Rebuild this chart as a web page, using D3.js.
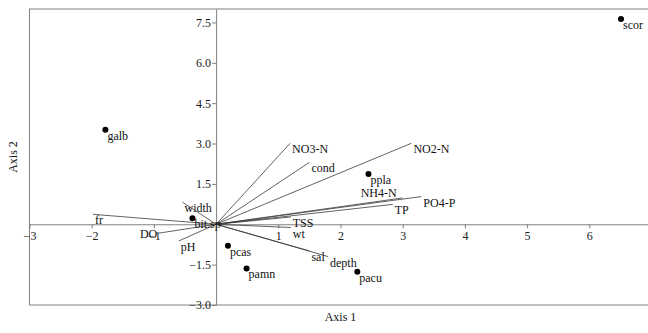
<!DOCTYPE html>
<html>
<head>
<meta charset="utf-8">
<script src="https://cdn.jsdelivr.net/npm/d3@7"></script>
<style>
  body { margin: 0; background: #fff; }
  svg { display: block; font-family: "Liberation Serif", "DejaVu Serif", serif; }
</style>
</head>
<body>
<svg id="chart" width="648" height="333"></svg>
<script>
// species scores (points)
const speciesNames = ["scor", "galb", "ppla", "bit.sp", "pcas", "pamn", "pacu"];
const speciesX = [6.51, -1.78, 2.45, -0.38, 0.19, 0.49, 2.27];
const speciesY = [7.63, 3.51, 1.87, 0.22, -0.80, -1.64, -1.76];

// environmental vectors (tips)
const varNames = ["NO3-N", "NO2-N", "cond", "NH4-N", "PO4-P", "TP", "TSS", "wt", "sal", "depth", "width", "fr", "DO", "pH"];
const varX = [1.19, 3.14, 1.50, 3.00, 3.30, 2.84, 1.20, 1.20, 1.50, 1.80, -0.54, -1.98, -0.92, -0.60];
const varY = [3.01, 3.01, 2.30, 0.98, 1.03, 0.74, 0.27, -0.12, -0.99, -1.20, 0.82, 0.37, -0.33, -0.62];

const xTicks = [-3, -2, -1, 1, 2, 3, 4, 5, 6];
const yTicks = [7.5, 6.0, 4.5, 3.0, 1.5, -1.5, -3.0];

// label placement: default right of the tip, a few moved by hand
const labelDefault = [2, 10];
const labelNudge = { "NH4-N": [-42, -1], "DO": [-19, 5] };

const svg = d3.select("#chart");

const x = d3.scaleLinear().domain([-3, 7]).range([29.5, 651.5]);
const y = d3.scaleLinear().domain([-3, 8]).range([305, 9]);

const frameColor = "#808080";
const serif = "Liberation Serif, DejaVu Serif, serif";

// frame
svg.append("rect")
  .attr("x", x(-3)).attr("y", y(8))
  .attr("width", x(7) - x(-3)).attr("height", y(-3) - y(8))
  .attr("fill", "none").attr("stroke", frameColor).attr("stroke-width", 1);

// zero axes
const xAxis = d3.axisBottom(x)
  .tickValues(xTicks)
  .tickFormat(d3.format("d"))
  .tickSizeInner(4).tickSizeOuter(0).tickPadding(3);

const yAxis = d3.axisLeft(y)
  .tickValues(yTicks)
  .tickFormat(d3.format(".1f"))
  .tickSizeInner(4).tickSizeOuter(0).tickPadding(1);

const gx = svg.append("g").attr("transform", `translate(0,${y(0)})`).call(xAxis);
const gy = svg.append("g").attr("transform", `translate(${x(0)},0)`).call(yAxis);

[gx, gy].forEach(g => {
  g.attr("font-family", serif).attr("font-size", 12);
  g.select(".domain").attr("stroke", frameColor);
  g.selectAll(".tick line").attr("stroke", frameColor);
  g.selectAll(".tick text")
    .attr("font-family", serif)
    .attr("font-size", 12)
    .attr("fill", "#1a1a1a");
});

// vectors
const vectors = varNames.map((n, i) => ({ name: n, x: varX[i], y: varY[i] }));

svg.append("g")
  .selectAll("line")
  .data(vectors)
  .enter()
  .append("line")
  .attr("x1", x(0)).attr("y1", y(0))
  .attr("x2", d => x(d.x)).attr("y2", d => y(d.y))
  .attr("stroke", "#3a3a3a")
  .attr("stroke-width", 0.8);

// species points
const species = speciesNames.map((n, i) => ({ name: n, x: speciesX[i], y: speciesY[i] }));

svg.append("g")
  .selectAll("circle")
  .data(species)
  .enter()
  .append("circle")
  .attr("cx", d => x(d.x)).attr("cy", d => y(d.y))
  .attr("r", 3)
  .attr("fill", "#000");

// labels
const labels = vectors.concat(species);

svg.append("g")
  .attr("font-family", serif)
  .selectAll("text")
  .data(labels)
  .enter()
  .append("text")
  .attr("x", d => x(d.x) + (labelNudge[d.name] || labelDefault)[0])
  .attr("y", d => y(d.y) + (labelNudge[d.name] || labelDefault)[1])
  .attr("font-size", 12)
  .attr("fill", "#111")
  .text(d => d.name);

// axis titles
svg.append("text")
  .attr("x", (x(-3) + x(7)) / 2)
  .attr("y", 321)
  .attr("text-anchor", "middle")
  .attr("font-size", 12)
  .attr("fill", "#111")
  .text("Axis 1");

svg.append("text")
  .attr("transform", `translate(17,${(y(-3) + y(8)) / 2}) rotate(-90)`)
  .attr("text-anchor", "middle")
  .attr("font-size", 12)
  .attr("fill", "#111")
  .text("Axis 2");
</script>
</body>
</html>
